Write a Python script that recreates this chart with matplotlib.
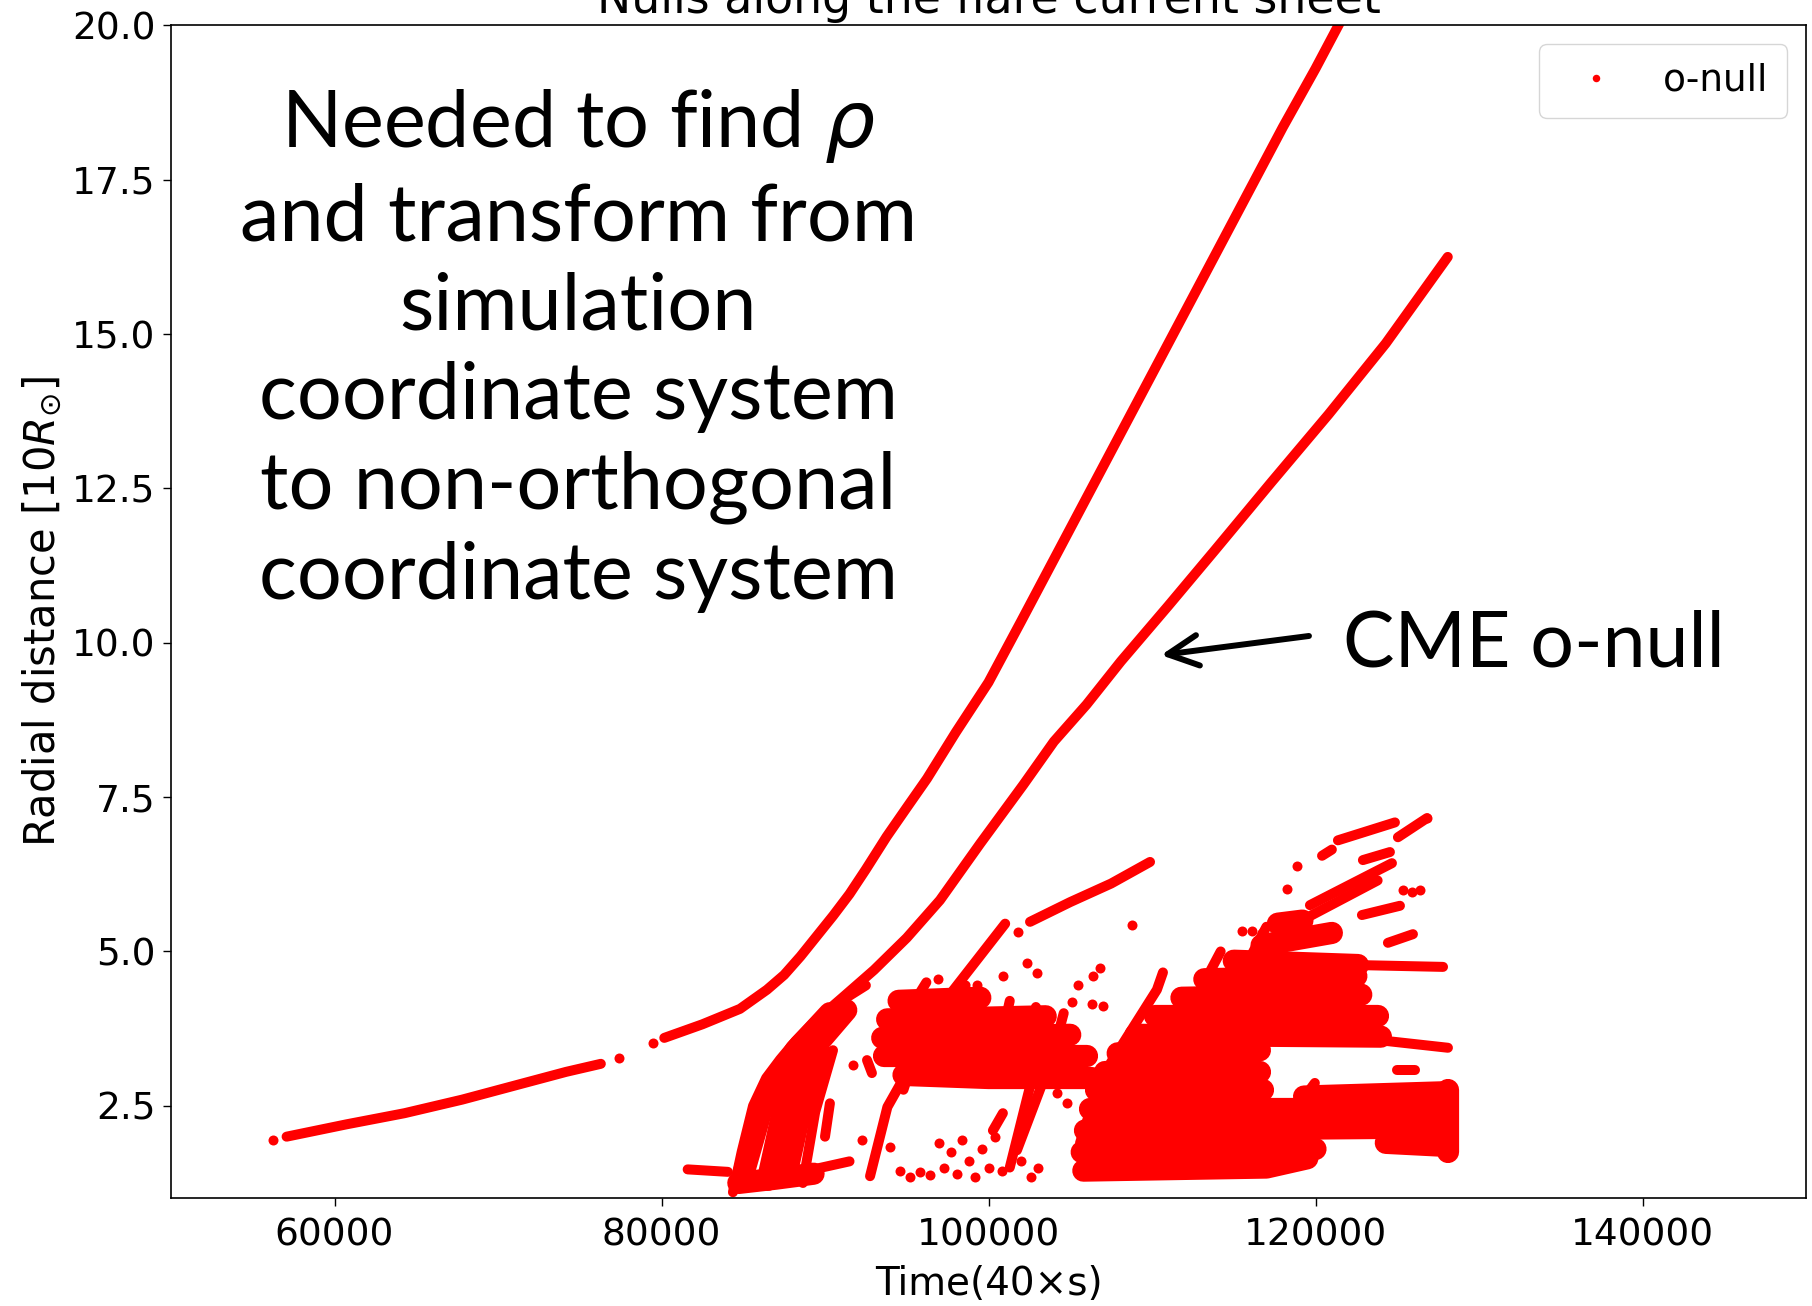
import matplotlib
matplotlib.use("Agg")
import matplotlib.pyplot as plt

plt.rcParams["font.family"] = ["DejaVu Sans"]

# upper (fast) null track, two continuous pieces plus stray detections
upper_a_x = [57070, 60740, 64280, 67810, 71340, 74170, 76290]
upper_a_y = [2.00, 2.20, 2.38, 2.60, 2.85, 3.05, 3.18]
upper_b_x = [80170, 82500, 84800, 86450, 87500, 88500, 89500, 90500, 91500,
             92500, 93770, 95000, 96240, 98000, 100000, 102000, 104000,
             106000, 108000, 110000, 112000, 114000, 116000, 118000, 120000,
             121500]
upper_b_y = [3.60, 3.82, 4.07, 4.38, 4.62, 4.92, 5.25, 5.58, 5.93,
             6.33, 6.86, 7.33, 7.80, 8.55, 9.36, 10.35, 11.35,
             12.35, 13.35, 14.35, 15.35, 16.35, 17.35, 18.35, 19.30,
             20.05]

# CME o-null track
cme_x = [84370, 84900, 85600, 86400, 87250, 88200, 89270, 91100, 93000, 95000,
         97030, 99500, 102130, 104000, 106000, 108100, 111000, 113850, 117300,
         120800, 124300, 128090]
cme_y = [1.10, 1.75, 2.50, 2.95, 3.25, 3.55, 3.84, 4.26, 4.70, 5.22,
         5.83, 6.75, 7.70, 8.40, 9.00, 9.70, 10.60, 11.50, 12.60,
         13.70, 14.85, 16.25]

# dense clumps of current-sheet nulls (drawn as wide strokes)
clumps = [
    # fan at the base of the CME track
    ([84900, 86300, 88200, 90300], [1.30, 2.60, 3.40, 4.00]),
    ([86500, 87500, 89200, 91300], [1.30, 2.50, 3.40, 4.05]),
    ([87600, 88400, 89900], [1.35, 2.30, 3.30]),
    ([84700, 87000, 89300], [1.25, 1.32, 1.40]),
    # middle band
    ([94800, 100000, 106300], [3.00, 2.95, 2.95]),
    ([93600, 100000, 106000], [3.30, 3.30, 3.30]),
    ([93500, 99000, 105000], [3.60, 3.62, 3.65]),
    ([93800, 98500, 103500], [3.90, 3.92, 3.95]),
    ([94500, 99500], [4.20, 4.25]),
    # main group
    ([105800, 117000, 119500], [1.45, 1.50, 1.65]),
    ([105700, 120000], [1.75, 1.80]),
    ([124300, 128000], [1.90, 1.85]),
    ([105900, 128000], [2.10, 2.15]),
    ([106200, 128000], [2.45, 2.45]),
    ([106600, 116800], [2.75, 2.75]),
    ([119300, 128000], [2.65, 2.72]),
    ([107100, 116600], [3.05, 3.05]),
    ([107900, 116600], [3.35, 3.40]),
    ([109000, 124000], [3.65, 3.62]),
    ([110200, 123800], [3.95, 3.95]),
    ([111800, 122800], [4.25, 4.30]),
    ([113200, 122500], [4.55, 4.60]),
    ([115000, 122600], [4.85, 4.78]),
    ([116700, 121000], [5.10, 5.30]),
    ([117700, 119200], [5.45, 5.50]),
    ([128100, 128100], [1.75, 2.75]),
]

# single tracks of short-lived nulls
tracks = [
    ([88650, 89400, 90490], [1.25, 2.40, 3.40]),
    ([84400, 86000, 88000, 89800, 91500], [1.25, 1.30, 1.40, 1.50, 1.60]),
    ([81600, 84060], [1.47, 1.43]),
    ([89500, 91000, 92500], [3.70, 4.20, 4.45]),
    ([90000, 90300], [2.00, 2.54]),
    ([92755, 93815, 97840, 101020], [1.36, 2.48, 4.37, 5.45]),
    ([93740, 94800], [3.40, 4.10]),
    ([94800, 96430], [2.76, 4.10]),
    ([92570, 92870], [3.24, 3.03]),
    ([95500, 96200], [4.20, 4.50]),
    ([98000, 98600], [4.20, 4.45]),
    ([100200, 101300], [2.90, 4.20]),
    ([101800, 102900], [2.95, 4.10]),
    ([103600, 104600], [3.00, 4.00]),
    ([102540, 105000, 107500, 109880], [5.48, 5.80, 6.10, 6.45]),
    ([105600, 106820, 110300, 110670], [1.90, 2.92, 4.38, 4.66]),
    ([101740, 103760], [1.78, 3.19]),
    ([101300, 103000], [1.50, 3.30]),
    ([100270, 100880], [2.10, 2.38]),
    ([113000, 114200], [4.40, 5.00]),
    ([116000, 117000], [4.90, 5.40]),
    ([124000, 128100], [3.56, 3.44]),
    ([122500, 127800], [4.78, 4.75]),
    ([124980, 126080], [3.08, 3.08]),
    ([114150, 116900], [3.21, 3.37]),
    ([119050, 119960], [2.54, 2.87]),
    ([121372, 124858], [6.80, 7.09]),
    ([125041, 126817], [6.85, 7.16]),
    ([120400, 121000], [6.55, 6.65]),
    ([122900, 124552], [6.48, 6.61]),
    ([119660, 124675], [5.75, 6.43]),
    ([119500, 123800], [5.55, 6.15]),
    ([122840, 125165], [5.59, 5.74]),
    ([124430, 125960], [5.14, 5.28]),
]

# isolated detections
dots_x = [56220, 77420, 79470, 101800, 108775, 102352, 102963, 106388, 106817,
          105472, 118866, 118255, 125350, 125900, 126390, 115500, 116100,
          116725, 126817, 105100, 106330, 107000, 104190, 104800, 91710,
          92260, 93970, 94600, 95200, 95800, 96400, 97000, 97300, 97700,
          98100, 98400, 98800, 99200, 99600, 100000, 100400, 100800, 102000,
          102600, 103000, 96900, 99300, 100900]
dots_y = [1.95, 3.27, 3.52, 5.32, 5.43, 4.81, 4.65, 4.60, 4.73,
          4.46, 6.38, 6.01, 5.99, 5.97, 6.00, 5.33, 5.33,
          5.30, 7.16, 4.18, 4.15, 4.12, 2.70, 2.54, 3.16,
          1.94, 1.83, 1.45, 1.35, 1.42, 1.38, 1.90, 1.50, 1.75,
          1.40, 1.95, 1.60, 1.35, 1.80, 1.50, 2.00, 1.45, 1.60,
          1.35, 1.50, 4.55, 4.45, 4.60]

W, H = 1812, 1306
fig = plt.figure(figsize=(W / 100, H / 100), dpi=100)
ax = fig.add_axes([171 / W, 1 - 1198.4 / H, 1635 / W, 1173 / H])

lw = 7.2
style = dict(color="red", lw=lw, solid_capstyle="round", solid_joinstyle="round")
ax.plot(upper_a_x, upper_a_y, **style)
ax.plot(upper_b_x, upper_b_y, **style)
ax.plot(cme_x, cme_y, **style)
for tx, ty in clumps:
    ax.plot(tx, ty, color="red", lw=16, solid_capstyle="round",
            solid_joinstyle="round")
for tx, ty in tracks:
    ax.plot(tx, ty, **style)
ax.plot(dots_x, dots_y, "o", color="red", ms=lw, mew=0, label="o-null")

ax.set_xlim(50000, 150000)
ax.set_ylim(1.0, 20.0)
ax.set_xticks([60000, 80000, 100000, 120000, 140000])
ax.set_yticks([2.5, 5.0, 7.5, 10.0, 12.5, 15.0, 17.5, 20.0])
ax.tick_params(labelsize=27, length=6, width=1)
ax.tick_params(axis="x", pad=8)
ax.tick_params(axis="y", pad=5)
for s in ax.spines.values():
    s.set_linewidth(1.2)

ax.set_xlabel("Time(40×s)", fontsize=28, labelpad=8)
ax.set_ylabel(r"Radial distance [$10R_{\odot}$]", fontsize=30, labelpad=6)
ax.set_title("Nulls along the flare current sheet", fontsize=33, pad=9)

ax.legend(loc="upper right", fontsize=27, markerscale=0.75, borderpad=0.5)

fig.text(578 / W, 1 - 350 / H,
         "Needed to find $\\rho$\nand transform from\nsimulation\ncoordinate system\n"
         "to non-orthogonal\ncoordinate system",
         family="Lato", fontsize=57, ha="center", va="center",
         multialignment="center", linespacing=1.3)
fig.text(1343 / W, 1 - 645 / H, "CME o-null", family="Lato", fontsize=55.5,
         ha="left", va="center")
ax.annotate("", xy=(110550, 9.80), xytext=(119600, 10.11),
            arrowprops=dict(arrowstyle="->,head_length=1.1,head_width=0.55",
                            lw=4.3, color="black", shrinkA=0, shrinkB=0,
                            mutation_scale=20))

fig.savefig("out.png", dpi=100)
